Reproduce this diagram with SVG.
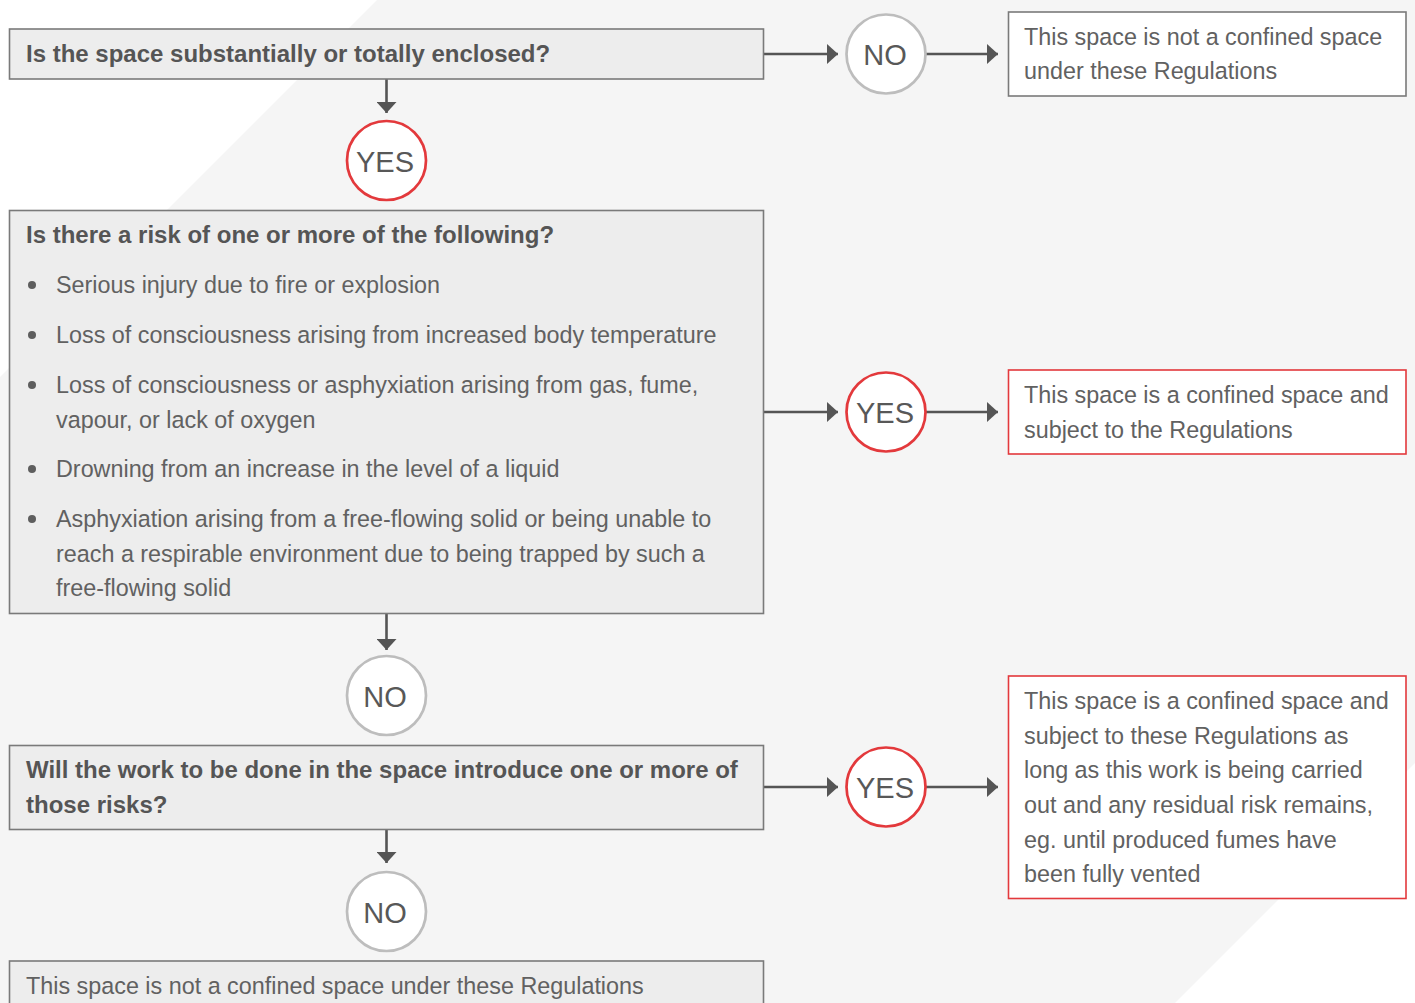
<svg xmlns="http://www.w3.org/2000/svg" width="1415" height="1003" viewBox="0 0 1415 1003">
<style>
.box{fill:#ededed;stroke:#7a7a7a;stroke-width:1.6}
.rbox{fill:#ffffff;stroke:#7a7a7a;stroke-width:1.6}
.redbox{fill:#ffffff;stroke:#e3393c;stroke-width:1.6}
.cno{fill:#ffffff;stroke:#bdbdbd;stroke-width:2.7}
.cyes{fill:#ffffff;stroke:#e3393c;stroke-width:2.7}
.b{font-family:"Liberation Sans",Arial,sans-serif;font-weight:bold;font-size:24px;fill:#555555}
.t{font-family:"Liberation Sans",Arial,sans-serif;font-size:23.35px;fill:#616161}
.c{font-family:"Liberation Sans",Arial,sans-serif;font-size:29px;fill:#585858;text-anchor:middle}
.con{stroke:#555555;stroke-width:2.6;fill:none}
</style>
<defs>
<marker id="ah" viewBox="0 0 11 20" refX="11" refY="10" markerWidth="11" markerHeight="20" markerUnits="userSpaceOnUse" orient="auto">
<path d="M0,0 L11,10 L0,20 Z" fill="#555555"/>
</marker>
</defs>
<rect x="0" y="0" width="1415" height="1003" fill="#f5f5f5"/>
<polygon points="0,0 377,0 0,377" fill="#ffffff"/>
<polygon points="1415,763 1415,1003 1175,1003" fill="#ffffff"/>

<g id="connectors">
<line class="con" x1="386.5" y1="79" x2="386.5" y2="113" marker-end="url(#ah)"/>
<line class="con" x1="386.5" y1="613" x2="386.5" y2="650" marker-end="url(#ah)"/>
<line class="con" x1="386.5" y1="829" x2="386.5" y2="863" marker-end="url(#ah)"/>
<line class="con" x1="764" y1="54" x2="838" y2="54" marker-end="url(#ah)"/>
<line class="con" x1="926" y1="54" x2="998" y2="54" marker-end="url(#ah)"/>
<line class="con" x1="764" y1="412" x2="838" y2="412" marker-end="url(#ah)"/>
<line class="con" x1="926" y1="412" x2="998" y2="412" marker-end="url(#ah)"/>
<line class="con" x1="764" y1="787" x2="838" y2="787" marker-end="url(#ah)"/>
<line class="con" x1="926" y1="787" x2="998" y2="787" marker-end="url(#ah)"/>
</g>

<g id="q1">
<rect class="box" x="9.5" y="29" width="754" height="50"/>
<text class="b" x="26" y="62">Is the space substantially or totally enclosed?</text>
</g>

<g id="yes1">
<circle class="cyes" cx="386.5" cy="160.5" r="39.5"/>
<text class="c" x="385" y="171.5">YES</text>
</g>

<g id="q2">
<rect class="box" x="9.5" y="210.5" width="754" height="403"/>
<text class="b" x="26" y="243">Is there a risk of one or more of the following?</text>
<circle cx="32" cy="285" r="4" fill="#5e5e5e"/>
<text class="t" x="56" y="293">Serious injury due to fire or explosion</text>
<circle cx="32" cy="335" r="4" fill="#5e5e5e"/>
<text class="t" x="56" y="343">Loss of consciousness arising from increased body temperature</text>
<circle cx="32" cy="385" r="4" fill="#5e5e5e"/>
<text class="t" x="56" y="393">Loss of consciousness or asphyxiation arising from gas, fume,</text>
<text class="t" x="56" y="427.5">vapour, or lack of oxygen</text>
<circle cx="32" cy="469" r="4" fill="#5e5e5e"/>
<text class="t" x="56" y="477">Drowning from an increase in the level of a liquid</text>
<circle cx="32" cy="519" r="4" fill="#5e5e5e"/>
<text class="t" x="56" y="527">Asphyxiation arising from a free-flowing solid or being unable to</text>
<text class="t" x="56" y="561.5">reach a respirable environment due to being trapped by such a</text>
<text class="t" x="56" y="596">free-flowing solid</text>
</g>

<g id="no2">
<circle class="cno" cx="386.5" cy="695.5" r="39.5"/>
<text class="c" x="385" y="706.5">NO</text>
</g>

<g id="q3">
<rect class="box" x="9.5" y="745.5" width="754" height="84"/>
<text class="b" x="26" y="778">Will the work to be done in the space introduce one or more of</text>
<text class="b" x="26" y="813">those risks?</text>
</g>

<g id="no3">
<circle class="cno" cx="386.5" cy="911.5" r="39.5"/>
<text class="c" x="385" y="922.5">NO</text>
</g>

<g id="r4">
<rect class="box" x="9.5" y="961" width="754" height="60"/>
<text class="t" x="26" y="993.5">This space is not a confined space under these Regulations</text>
</g>

<g id="no1">
<circle class="cno" cx="886" cy="54" r="39.5"/>
<text class="c" x="885" y="65">NO</text>
</g>

<g id="r1">
<rect class="rbox" x="1008.5" y="12" width="397.5" height="84"/>
<text class="t" x="1024" y="45">This space is not a confined space</text>
<text class="t" x="1024" y="79">under these Regulations</text>
</g>

<g id="yes2">
<circle class="cyes" cx="886" cy="412" r="39.5"/>
<text class="c" x="885" y="423">YES</text>
</g>

<g id="r2">
<rect class="redbox" x="1008.5" y="370" width="397.5" height="84"/>
<text class="t" x="1024" y="403">This space is a confined space and</text>
<text class="t" x="1024" y="437.5">subject to the Regulations</text>
</g>

<g id="yes3">
<circle class="cyes" cx="886" cy="787" r="39.5"/>
<text class="c" x="885" y="798">YES</text>
</g>

<g id="r3">
<rect class="redbox" x="1008.5" y="676" width="397.5" height="222.5"/>
<text class="t" x="1024" y="709">This space is a confined space and</text>
<text class="t" x="1024" y="743.5">subject to these Regulations as</text>
<text class="t" x="1024" y="778">long as this work is being carried</text>
<text class="t" x="1024" y="813">out and any residual risk remains,</text>
<text class="t" x="1024" y="847.5">eg. until produced fumes have</text>
<text class="t" x="1024" y="882">been fully vented</text>
</g>
</svg>
